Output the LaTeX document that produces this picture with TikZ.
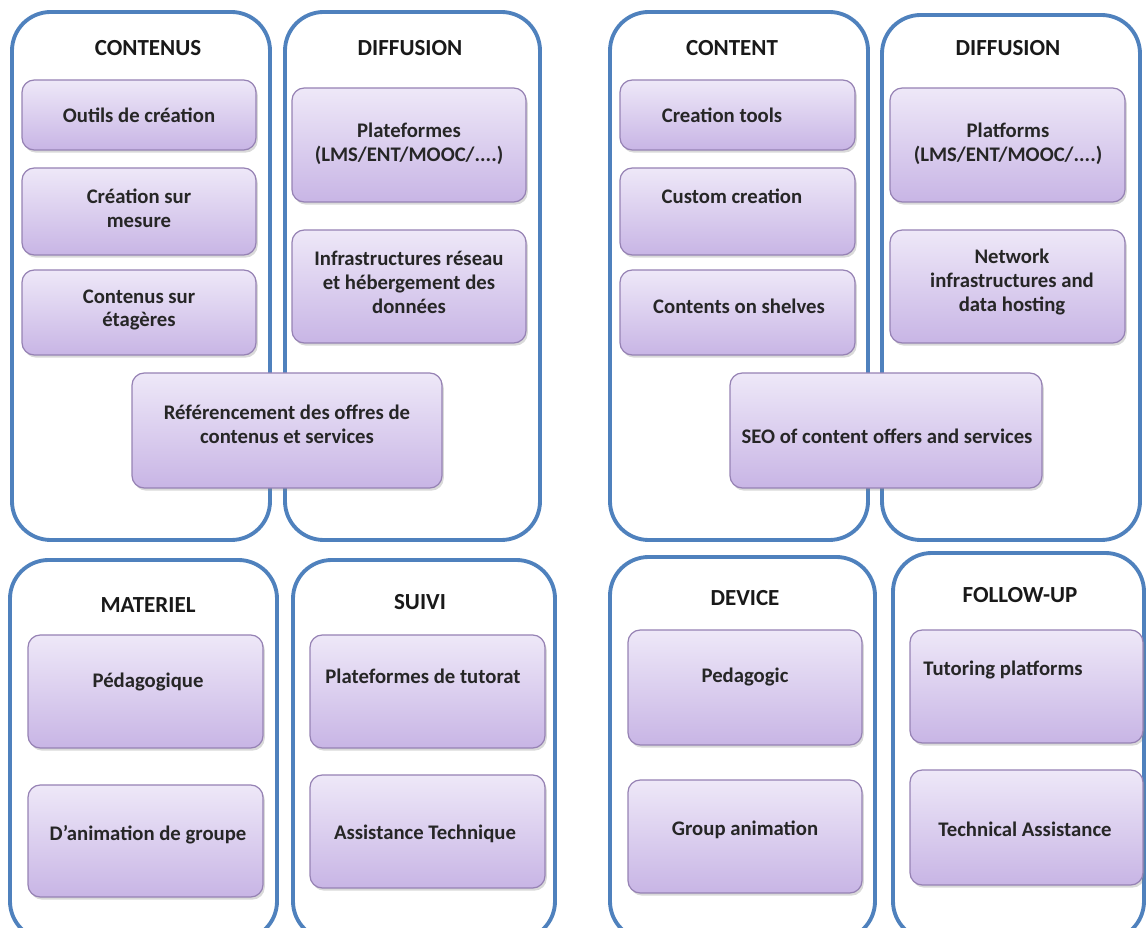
\documentclass[tikz,border=0pt]{standalone}
\usepackage{fontspec}
\setmainfont{Carlito}
\usetikzlibrary{shadows}

\definecolor{frameblue}{RGB}{79,129,189}
\definecolor{itemtop}{RGB}{238,232,248}
\definecolor{itembot}{RGB}{200,181,229}
\definecolor{itemline}{RGB}{150,130,180}

\tikzset{
  panel/.style={draw=frameblue, line width=2.2pt, rounded corners=22pt},
  item/.style={draw=itemline, line width=0.7pt, rounded corners=7pt,
    top color=itemtop, bottom color=itembot,
    drop shadow={opacity=0.3, shadow xshift=1pt, shadow yshift=-1.5pt}},
  head/.style={font=\fontsize{13.1}{15}\selectfont\bfseries, text=black!90},
  lbl/.style={font=\fontsize{11.8}{13.6}\selectfont\bfseries, align=center, text=black!85}
}

\begin{document}
\begin{tikzpicture}[x=0.02cm, y=-0.02cm]
    \useasboundingbox (0,0) rectangle (1147,928);
    \clip (0,0) rectangle (1147,928);
    % outer panels
    \draw[panel] (12,12) rectangle (270,540);
    \draw[panel] (285,12) rectangle (540,540);
    \draw[panel] (610,12) rectangle (868,540);
    \draw[panel] (882,15) rectangle (1140,540);
    \draw[panel] (10,560) rectangle (277,940);
    \draw[panel] (293,560) rectangle (555,940);
    \draw[panel] (610,557) rectangle (875,940);
    \draw[panel] (893,553) rectangle (1144,940);

    % panel titles
    \node[head] (hcontenus) at (148,48) {CONTENUS};
    \node[head] (hdiffg) at (410,48) {DIFFUSION};
    \node[head] (hcontent) at (732,48) {CONTENT};
    \node[head] (hdiffd) at (1008,48) {DIFFUSION};
    \node[head] (hmateriel) at (148,605) {MATERIEL};
    \node[head] (hsuivi) at (420,602) {SUIVI};
    \node[head] (hdevice) at (745,598) {DEVICE};
    \node[head] (hfollow) at (1020,595) {FOLLOW-UP};

    % French side, top
    \draw[item] (22,80) rectangle (256,150);
    \node[lbl] (outils) at (139,115) {Outils de création};
    \draw[item] (22,168) rectangle (256,255);
    \node[lbl] (mesure) at (139,208) {Création sur\\mesure};
    \draw[item] (22,270) rectangle (256,355);
    \node[lbl] (etageres) at (139,310) {Contenus sur\\étagères};
    \draw[item] (292,88) rectangle (526,202);
    \node[lbl] (plateformes) at (409,144) {Plateformes\\(LMS/ENT/MOOC/....)};
    \draw[item] (292,230) rectangle (526,343);
    \node[lbl] (infra) at (409,282) {Infrastructures réseau\\et hébergement des\\données};
    \draw[item] (132,373) rectangle (442,488);
    \node[lbl] (referencement) at (287,424) {Référencement des offres de\\contenus et services};

    % English side, top
    \draw[item] (620,80) rectangle (855,150);
    \node[lbl] (tools) at (722,115) {Creation tools};
    \draw[item] (620,168) rectangle (855,255);
    \node[lbl] (custom) at (732,196) {Custom creation};
    \draw[item] (620,270) rectangle (855,355);
    \node[lbl] (shelves) at (739,306) {Contents on shelves};
    \draw[item] (890,88) rectangle (1125,202);
    \node[lbl] (platforms) at (1008,144) {Platforms\\(LMS/ENT/MOOC/....)};
    \draw[item] (890,230) rectangle (1125,343);
    \node[lbl] (network) at (1012,282) {Network\\infrastructures and\\data hosting};
    \draw[item] (730,373) rectangle (1042,488);
    \node[lbl] (seo) at (887,436) {SEO of content offers and services};

    % French side, bottom
    \draw[item] (28,635) rectangle (263,748);
    \node[lbl] (pedagogique) at (148,682) {Pédagogique};
    \draw[item] (28,785) rectangle (263,897);
    \node[lbl] (animation) at (148,835) {D’animation de groupe};
    \draw[item] (310,635) rectangle (545,748);
    \node[lbl] (tutorat) at (423,676) {Plateformes de tutorat};
    \draw[item] (310,775) rectangle (545,888);
    \node[lbl] (assistance) at (425,834) {Assistance Technique};

    % English side, bottom
    \draw[item] (628,630) rectangle (862,745);
    \node[lbl] (pedagogic) at (745,677) {Pedagogic};
    \draw[item] (628,780) rectangle (862,893);
    \node[lbl] (groupanim) at (745,830) {Group animation};
    \draw[item] (910,630) rectangle (1143,743);
    \node[lbl] (tutoring) at (1003,670) {Tutoring platforms};
    \draw[item] (910,770) rectangle (1143,885);
    \node[lbl] (technical) at (1025,829) {Technical Assistance};
\end{tikzpicture}
\end{document}
